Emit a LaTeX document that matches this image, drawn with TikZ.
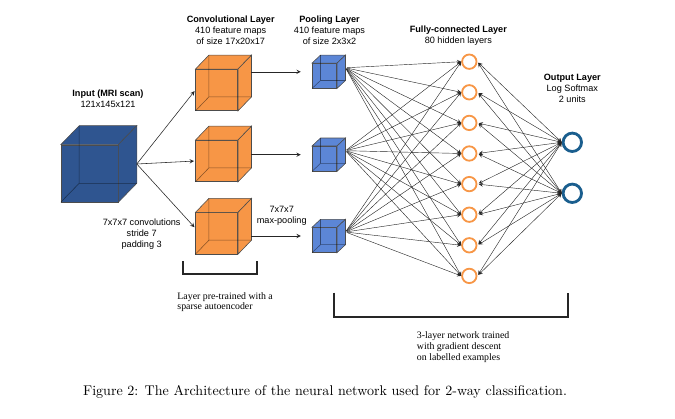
\documentclass[tikz,border=0pt]{standalone}
\usepackage{fontspec}
\setmainfont{Latin Modern Roman}
\newfontfamily\labelfont{Liberation Sans}
\newfontfamily\notefont{Liberation Serif}
\usepackage{tikz}
\usetikzlibrary{arrows, positioning, calc}
\definecolor{mriBlue}{RGB}{47,85,144}
\definecolor{convOrange}{RGB}{247,150,70}
\definecolor{poolBlue}{RGB}{92,134,214}
\definecolor{outBlue}{RGB}{26,94,142}
\tikzstyle{arrow} = [->,>=stealth,draw=black!85]
\tikzstyle{link} = [<->,>=stealth,draw=black!85]
\tikzstyle{bracket} = [line width=1.5pt, draw=black!85]
\tikzset{
	cubeface/.style = {rectangle, draw=black!70, line width=0.4pt, inner sep=0pt},
	hiddenedge/.style = {draw=black, line width=0.4pt, opacity=0.45},
	layertext/.style = {font=\labelfont\fontsize{6.5}{7.8}\selectfont, align=center},
	notetext/.style = {font=\notefont\fontsize{7}{7.6}\selectfont, align=left, anchor=west},
	hiddenUnit/.style = {circle, draw=convOrange, line width=1.3pt, minimum size=0.36cm, inner sep=0pt},
	outUnit/.style = {circle, draw=outBlue, line width=2pt, minimum size=0.46cm, inner sep=0pt}
}
% #1 name, #2 front centre, #3 width, #4 height, #5/#6 depth shift, #7 colour
\newcommand\cube[7]{%
	\node (#1) [cubeface, fill=#7, minimum width=#3, minimum height=#4] at #2 {};
	\coordinate (#1-tl) at ($(#1.north west)+(#5,#6)$);
	\coordinate (#1-tr) at ($(#1.north east)+(#5,#6)$);
	\coordinate (#1-br) at ($(#1.south east)+(#5,#6)$);
	\coordinate (#1-bl) at ($(#1.south west)+(#5,#6)$);
	\coordinate (#1-be) at ($(#1.east)+(#5,#6)$);
	\coordinate (#1-mid) at ($(#1)+0.5*(#5,#6)$);
	\filldraw [fill=#7, draw=black!70, line width=0.4pt] (#1.north west) -- (#1-tl) -- (#1-tr) -- (#1.north east) -- cycle;
	\filldraw [fill=#7, draw=black!70, line width=0.4pt] (#1.north east) -- (#1-tr) -- (#1-br) -- (#1.south east) -- cycle;
	\draw [hiddenedge] (#1.south west) -- (#1-bl) -- (#1-tl) (#1-bl) -- (#1-br);
}

\begin{document}
\begin{tikzpicture}[x=0.025cm, y=-0.025cm]
\useasboundingbox (0,0) rectangle (675,419);
%----------------------------------------------------------------------------
% Cubes
\cube{mriInput}{(89.5,173.5)}{1.425cm}{1.425cm}{18.5}{-19}{mriBlue}

\cube{conv1}{(216.7,90)}{1.05cm}{1.03cm}{13.5}{-14}{convOrange}
\cube{conv2}{(216.7,161)}{1.05cm}{1.03cm}{13.5}{-14}{convOrange}
\cube{conv3}{(216.7,233.3)}{1.05cm}{1.03cm}{13.5}{-14}{convOrange}

\cube{pool1}{(324.5,75.8)}{0.61cm}{0.62cm}{8.5}{-8}{poolBlue}
\cube{pool2}{(324.5,158.7)}{0.61cm}{0.62cm}{8.5}{-8}{poolBlue}
\cube{pool3}{(324.5,240)}{0.61cm}{0.62cm}{8.5}{-8}{poolBlue}

%----------------------------------------------------------------------------
% Units
\foreach \i in {1,...,8}
	\node (hidden\i) [hiddenUnit] at (469.3,{61.7+30.6*(\i-1)}) {};
\node (out1) [outUnit] at (572.3,142.3) {};
\node (out2) [outUnit] at (572.3,193.3) {};

%----------------------------------------------------------------------------
% Lines
\coordinate (inputOut) at (mriInput-mid -| mriInput-tr);
\draw [arrow, shorten >=1pt] (inputOut) -- (conv1.west);
\draw [arrow, shorten >=1pt] (inputOut) -- (conv2.west);
\draw [arrow, shorten >=1pt] (inputOut) -- ($(conv3.west)+(0,-5)$);

\draw [arrow, shorten >=0.28cm] (pool1-mid -| conv1-tr) -- (pool1-mid -| pool1.west);
\draw [arrow, shorten >=0.28cm] (pool2-mid -| conv2-tr) -- (pool2-mid -| pool2.west);
\draw [arrow, shorten >=0.28cm] (pool3-mid -| conv3-tr) -- (pool3-mid -| pool3.west);

\foreach \p in {1,2,3}
	\foreach \h in {1,...,8}
		\draw [arrow, line width=0.3pt, shorten <=1pt] (pool\p-be) -- (hidden\h.west);
\foreach \h in {1,...,8}
	\foreach \o in {1,2}
		\draw [link, line width=0.3pt, shorten <=1pt] (hidden\h.east) -- (out\o.west);

%----------------------------------------------------------------------------
% Labels
\node (inputLabel) [layertext] at (108,99) {\textbf{Input (MRI scan)}\\121x145x121};
\node (convLabel) [layertext] at (230.7,30.5) {\textbf{Convolutional Layer}\\410 feature maps\\of size 17x20x17};
\node (poolLabel) [layertext] at (329.5,30.5) {\textbf{Pooling Layer}\\410 feature maps\\of size 2x3x2};
\node (fcLabel) [layertext] at (458.3,36) {\textbf{Fully-connected Layer}\\80 hidden layers};
\node (outLabel) [layertext] at (572.3,88.7) {\textbf{Output Layer}\\Log Softmax\\2 units};
\node (convNote) [layertext] at (141.7,234.3) {7x7x7 convolutions\\stride 7\\padding 3};
\node (poolNote) [layertext] at (281.7,216.2) {7x7x7\\max-pooling};

%----------------------------------------------------------------------------
% Brackets
\draw [bracket] (183.3,261) -- (183.3,274.3) -- (257.3,274.3) -- (257.3,261);
\draw [bracket] (333.7,292.7) -- (333.7,316.7) -- (567.7,316.7) -- (567.7,292.7);
\node (pretrainNote) [notetext] at (172.5,302) {Layer pre-trained with a\\sparse autoencoder};
\node (trainNote) [notetext] at (412,347) {3-layer network trained\\with gradient descent\\on labelled examples};

\node (caption) at (325,391.5) {Figure 2: The Architecture of the neural network used for 2-way classification.};
\end{tikzpicture}
\end{document}
